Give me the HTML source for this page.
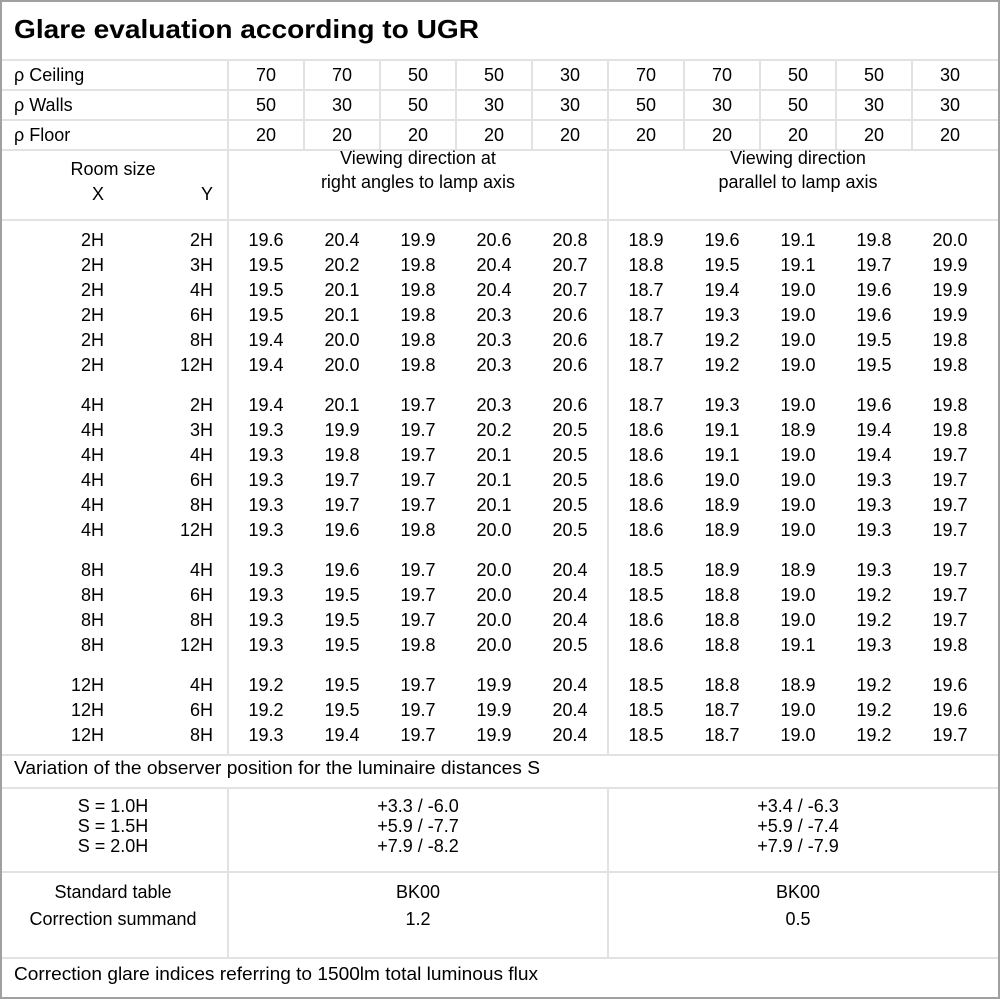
<!DOCTYPE html>
<html><head><meta charset="utf-8"><style>
html,body{margin:0;padding:0;background:#fff}
svg{display:block}
text{font-family:"Liberation Sans","DejaVu Sans",sans-serif;font-size:18px;fill:#000}
.c{text-anchor:middle}.r{text-anchor:end}
</style></head><body>
<svg width="1000" height="1000" xmlns="http://www.w3.org/2000/svg">
<rect x="0" y="0" width="1000" height="1000" fill="#fff"/>
<g stroke="#e2e2e2" stroke-width="2">
<line x1="0" y1="60" x2="1000" y2="60"/>
<line x1="0" y1="90" x2="1000" y2="90"/>
<line x1="0" y1="120" x2="1000" y2="120"/>
<line x1="0" y1="150" x2="1000" y2="150"/>
<line x1="0" y1="220" x2="1000" y2="220"/>
<line x1="0" y1="755" x2="1000" y2="755"/>
<line x1="0" y1="788" x2="1000" y2="788"/>
<line x1="0" y1="872" x2="1000" y2="872"/>
<line x1="0" y1="958" x2="1000" y2="958"/>
<line x1="228" y1="60" x2="228" y2="755"/>
<line x1="228" y1="788" x2="228" y2="958"/>
<line x1="608" y1="60" x2="608" y2="755"/>
<line x1="608" y1="788" x2="608" y2="958"/>
<line x1="304" y1="60" x2="304" y2="150"/>
<line x1="380" y1="60" x2="380" y2="150"/>
<line x1="456" y1="60" x2="456" y2="150"/>
<line x1="532" y1="60" x2="532" y2="150"/>
<line x1="684" y1="60" x2="684" y2="150"/>
<line x1="760" y1="60" x2="760" y2="150"/>
<line x1="836" y1="60" x2="836" y2="150"/>
<line x1="912" y1="60" x2="912" y2="150"/>
</g>
<rect x="1" y="1" width="998" height="997" fill="none" stroke="#a0a0a0" stroke-width="2"/>
<text x="14" y="38" style="font-size:26px;font-weight:bold" textLength="465" lengthAdjust="spacingAndGlyphs">Glare evaluation according to UGR</text>
<text x="14" y="81">ρ Ceiling</text>
<text x="14" y="111">ρ Walls</text>
<text x="14" y="141">ρ Floor</text>
<g class="c">
<text x="266" y="81" class="c">70</text><text x="342" y="81" class="c">70</text><text x="418" y="81" class="c">50</text><text x="494" y="81" class="c">50</text><text x="570" y="81" class="c">30</text><text x="646" y="81" class="c">70</text><text x="722" y="81" class="c">70</text><text x="798" y="81" class="c">50</text><text x="874" y="81" class="c">50</text><text x="950" y="81" class="c">30</text>
<text x="266" y="111" class="c">50</text><text x="342" y="111" class="c">30</text><text x="418" y="111" class="c">50</text><text x="494" y="111" class="c">30</text><text x="570" y="111" class="c">30</text><text x="646" y="111" class="c">50</text><text x="722" y="111" class="c">30</text><text x="798" y="111" class="c">50</text><text x="874" y="111" class="c">30</text><text x="950" y="111" class="c">30</text>
<text x="266" y="141" class="c">20</text><text x="342" y="141" class="c">20</text><text x="418" y="141" class="c">20</text><text x="494" y="141" class="c">20</text><text x="570" y="141" class="c">20</text><text x="646" y="141" class="c">20</text><text x="722" y="141" class="c">20</text><text x="798" y="141" class="c">20</text><text x="874" y="141" class="c">20</text><text x="950" y="141" class="c">20</text>
</g>
<text x="113" y="175" class="c">Room size</text>
<text x="98" y="200" class="c">X</text>
<text x="207" y="200" class="c">Y</text>
<text x="418" y="164" class="c">Viewing direction at</text>
<text x="418" y="188" class="c">right angles to lamp axis</text>
<text x="798" y="164" class="c">Viewing direction</text>
<text x="798" y="188" class="c">parallel to lamp axis</text>

<!-- data rows -->
<g>
<text x="104" y="246" class="r">2H</text><text x="213" y="246" class="r">2H</text><text x="266" y="246" class="c">19.6</text><text x="342" y="246" class="c">20.4</text><text x="418" y="246" class="c">19.9</text><text x="494" y="246" class="c">20.6</text><text x="570" y="246" class="c">20.8</text><text x="646" y="246" class="c">18.9</text><text x="722" y="246" class="c">19.6</text><text x="798" y="246" class="c">19.1</text><text x="874" y="246" class="c">19.8</text><text x="950" y="246" class="c">20.0</text>
<text x="104" y="271" class="r">2H</text><text x="213" y="271" class="r">3H</text><text x="266" y="271" class="c">19.5</text><text x="342" y="271" class="c">20.2</text><text x="418" y="271" class="c">19.8</text><text x="494" y="271" class="c">20.4</text><text x="570" y="271" class="c">20.7</text><text x="646" y="271" class="c">18.8</text><text x="722" y="271" class="c">19.5</text><text x="798" y="271" class="c">19.1</text><text x="874" y="271" class="c">19.7</text><text x="950" y="271" class="c">19.9</text>
<text x="104" y="296" class="r">2H</text><text x="213" y="296" class="r">4H</text><text x="266" y="296" class="c">19.5</text><text x="342" y="296" class="c">20.1</text><text x="418" y="296" class="c">19.8</text><text x="494" y="296" class="c">20.4</text><text x="570" y="296" class="c">20.7</text><text x="646" y="296" class="c">18.7</text><text x="722" y="296" class="c">19.4</text><text x="798" y="296" class="c">19.0</text><text x="874" y="296" class="c">19.6</text><text x="950" y="296" class="c">19.9</text>
<text x="104" y="321" class="r">2H</text><text x="213" y="321" class="r">6H</text><text x="266" y="321" class="c">19.5</text><text x="342" y="321" class="c">20.1</text><text x="418" y="321" class="c">19.8</text><text x="494" y="321" class="c">20.3</text><text x="570" y="321" class="c">20.6</text><text x="646" y="321" class="c">18.7</text><text x="722" y="321" class="c">19.3</text><text x="798" y="321" class="c">19.0</text><text x="874" y="321" class="c">19.6</text><text x="950" y="321" class="c">19.9</text>
<text x="104" y="346" class="r">2H</text><text x="213" y="346" class="r">8H</text><text x="266" y="346" class="c">19.4</text><text x="342" y="346" class="c">20.0</text><text x="418" y="346" class="c">19.8</text><text x="494" y="346" class="c">20.3</text><text x="570" y="346" class="c">20.6</text><text x="646" y="346" class="c">18.7</text><text x="722" y="346" class="c">19.2</text><text x="798" y="346" class="c">19.0</text><text x="874" y="346" class="c">19.5</text><text x="950" y="346" class="c">19.8</text>
<text x="104" y="371" class="r">2H</text><text x="213" y="371" class="r">12H</text><text x="266" y="371" class="c">19.4</text><text x="342" y="371" class="c">20.0</text><text x="418" y="371" class="c">19.8</text><text x="494" y="371" class="c">20.3</text><text x="570" y="371" class="c">20.6</text><text x="646" y="371" class="c">18.7</text><text x="722" y="371" class="c">19.2</text><text x="798" y="371" class="c">19.0</text><text x="874" y="371" class="c">19.5</text><text x="950" y="371" class="c">19.8</text>

<text x="104" y="411" class="r">4H</text><text x="213" y="411" class="r">2H</text><text x="266" y="411" class="c">19.4</text><text x="342" y="411" class="c">20.1</text><text x="418" y="411" class="c">19.7</text><text x="494" y="411" class="c">20.3</text><text x="570" y="411" class="c">20.6</text><text x="646" y="411" class="c">18.7</text><text x="722" y="411" class="c">19.3</text><text x="798" y="411" class="c">19.0</text><text x="874" y="411" class="c">19.6</text><text x="950" y="411" class="c">19.8</text>
<text x="104" y="436" class="r">4H</text><text x="213" y="436" class="r">3H</text><text x="266" y="436" class="c">19.3</text><text x="342" y="436" class="c">19.9</text><text x="418" y="436" class="c">19.7</text><text x="494" y="436" class="c">20.2</text><text x="570" y="436" class="c">20.5</text><text x="646" y="436" class="c">18.6</text><text x="722" y="436" class="c">19.1</text><text x="798" y="436" class="c">18.9</text><text x="874" y="436" class="c">19.4</text><text x="950" y="436" class="c">19.8</text>
<text x="104" y="461" class="r">4H</text><text x="213" y="461" class="r">4H</text><text x="266" y="461" class="c">19.3</text><text x="342" y="461" class="c">19.8</text><text x="418" y="461" class="c">19.7</text><text x="494" y="461" class="c">20.1</text><text x="570" y="461" class="c">20.5</text><text x="646" y="461" class="c">18.6</text><text x="722" y="461" class="c">19.1</text><text x="798" y="461" class="c">19.0</text><text x="874" y="461" class="c">19.4</text><text x="950" y="461" class="c">19.7</text>
<text x="104" y="486" class="r">4H</text><text x="213" y="486" class="r">6H</text><text x="266" y="486" class="c">19.3</text><text x="342" y="486" class="c">19.7</text><text x="418" y="486" class="c">19.7</text><text x="494" y="486" class="c">20.1</text><text x="570" y="486" class="c">20.5</text><text x="646" y="486" class="c">18.6</text><text x="722" y="486" class="c">19.0</text><text x="798" y="486" class="c">19.0</text><text x="874" y="486" class="c">19.3</text><text x="950" y="486" class="c">19.7</text>
<text x="104" y="511" class="r">4H</text><text x="213" y="511" class="r">8H</text><text x="266" y="511" class="c">19.3</text><text x="342" y="511" class="c">19.7</text><text x="418" y="511" class="c">19.7</text><text x="494" y="511" class="c">20.1</text><text x="570" y="511" class="c">20.5</text><text x="646" y="511" class="c">18.6</text><text x="722" y="511" class="c">18.9</text><text x="798" y="511" class="c">19.0</text><text x="874" y="511" class="c">19.3</text><text x="950" y="511" class="c">19.7</text>
<text x="104" y="536" class="r">4H</text><text x="213" y="536" class="r">12H</text><text x="266" y="536" class="c">19.3</text><text x="342" y="536" class="c">19.6</text><text x="418" y="536" class="c">19.8</text><text x="494" y="536" class="c">20.0</text><text x="570" y="536" class="c">20.5</text><text x="646" y="536" class="c">18.6</text><text x="722" y="536" class="c">18.9</text><text x="798" y="536" class="c">19.0</text><text x="874" y="536" class="c">19.3</text><text x="950" y="536" class="c">19.7</text>

<text x="104" y="576" class="r">8H</text><text x="213" y="576" class="r">4H</text><text x="266" y="576" class="c">19.3</text><text x="342" y="576" class="c">19.6</text><text x="418" y="576" class="c">19.7</text><text x="494" y="576" class="c">20.0</text><text x="570" y="576" class="c">20.4</text><text x="646" y="576" class="c">18.5</text><text x="722" y="576" class="c">18.9</text><text x="798" y="576" class="c">18.9</text><text x="874" y="576" class="c">19.3</text><text x="950" y="576" class="c">19.7</text>
<text x="104" y="601" class="r">8H</text><text x="213" y="601" class="r">6H</text><text x="266" y="601" class="c">19.3</text><text x="342" y="601" class="c">19.5</text><text x="418" y="601" class="c">19.7</text><text x="494" y="601" class="c">20.0</text><text x="570" y="601" class="c">20.4</text><text x="646" y="601" class="c">18.5</text><text x="722" y="601" class="c">18.8</text><text x="798" y="601" class="c">19.0</text><text x="874" y="601" class="c">19.2</text><text x="950" y="601" class="c">19.7</text>
<text x="104" y="626" class="r">8H</text><text x="213" y="626" class="r">8H</text><text x="266" y="626" class="c">19.3</text><text x="342" y="626" class="c">19.5</text><text x="418" y="626" class="c">19.7</text><text x="494" y="626" class="c">20.0</text><text x="570" y="626" class="c">20.4</text><text x="646" y="626" class="c">18.6</text><text x="722" y="626" class="c">18.8</text><text x="798" y="626" class="c">19.0</text><text x="874" y="626" class="c">19.2</text><text x="950" y="626" class="c">19.7</text>
<text x="104" y="651" class="r">8H</text><text x="213" y="651" class="r">12H</text><text x="266" y="651" class="c">19.3</text><text x="342" y="651" class="c">19.5</text><text x="418" y="651" class="c">19.8</text><text x="494" y="651" class="c">20.0</text><text x="570" y="651" class="c">20.5</text><text x="646" y="651" class="c">18.6</text><text x="722" y="651" class="c">18.8</text><text x="798" y="651" class="c">19.1</text><text x="874" y="651" class="c">19.3</text><text x="950" y="651" class="c">19.8</text>

<text x="104" y="691" class="r">12H</text><text x="213" y="691" class="r">4H</text><text x="266" y="691" class="c">19.2</text><text x="342" y="691" class="c">19.5</text><text x="418" y="691" class="c">19.7</text><text x="494" y="691" class="c">19.9</text><text x="570" y="691" class="c">20.4</text><text x="646" y="691" class="c">18.5</text><text x="722" y="691" class="c">18.8</text><text x="798" y="691" class="c">18.9</text><text x="874" y="691" class="c">19.2</text><text x="950" y="691" class="c">19.6</text>
<text x="104" y="716" class="r">12H</text><text x="213" y="716" class="r">6H</text><text x="266" y="716" class="c">19.2</text><text x="342" y="716" class="c">19.5</text><text x="418" y="716" class="c">19.7</text><text x="494" y="716" class="c">19.9</text><text x="570" y="716" class="c">20.4</text><text x="646" y="716" class="c">18.5</text><text x="722" y="716" class="c">18.7</text><text x="798" y="716" class="c">19.0</text><text x="874" y="716" class="c">19.2</text><text x="950" y="716" class="c">19.6</text>
<text x="104" y="741" class="r">12H</text><text x="213" y="741" class="r">8H</text><text x="266" y="741" class="c">19.3</text><text x="342" y="741" class="c">19.4</text><text x="418" y="741" class="c">19.7</text><text x="494" y="741" class="c">19.9</text><text x="570" y="741" class="c">20.4</text><text x="646" y="741" class="c">18.5</text><text x="722" y="741" class="c">18.7</text><text x="798" y="741" class="c">19.0</text><text x="874" y="741" class="c">19.2</text><text x="950" y="741" class="c">19.7</text>
</g>

<text x="14" y="774" textLength="526" lengthAdjust="spacingAndGlyphs">Variation of the observer position for the luminaire distances S</text>
<text x="113" y="812" class="c">S = 1.0H</text>
<text x="113" y="832" class="c">S = 1.5H</text>
<text x="113" y="852" class="c">S = 2.0H</text>
<text x="418" y="812" class="c">+3.3 / -6.0</text>
<text x="418" y="832" class="c">+5.9 / -7.7</text>
<text x="418" y="852" class="c">+7.9 / -8.2</text>
<text x="798" y="812" class="c">+3.4 / -6.3</text>
<text x="798" y="832" class="c">+5.9 / -7.4</text>
<text x="798" y="852" class="c">+7.9 / -7.9</text>
<text x="113" y="898" class="c">Standard table</text>
<text x="113" y="925" class="c">Correction summand</text>
<text x="418" y="898" class="c">BK00</text>
<text x="418" y="925" class="c">1.2</text>
<text x="798" y="898" class="c">BK00</text>
<text x="798" y="925" class="c">0.5</text>
<text x="14" y="980" textLength="524" lengthAdjust="spacingAndGlyphs">Correction glare indices referring to 1500lm total luminous flux</text>
</svg>
</body></html>
